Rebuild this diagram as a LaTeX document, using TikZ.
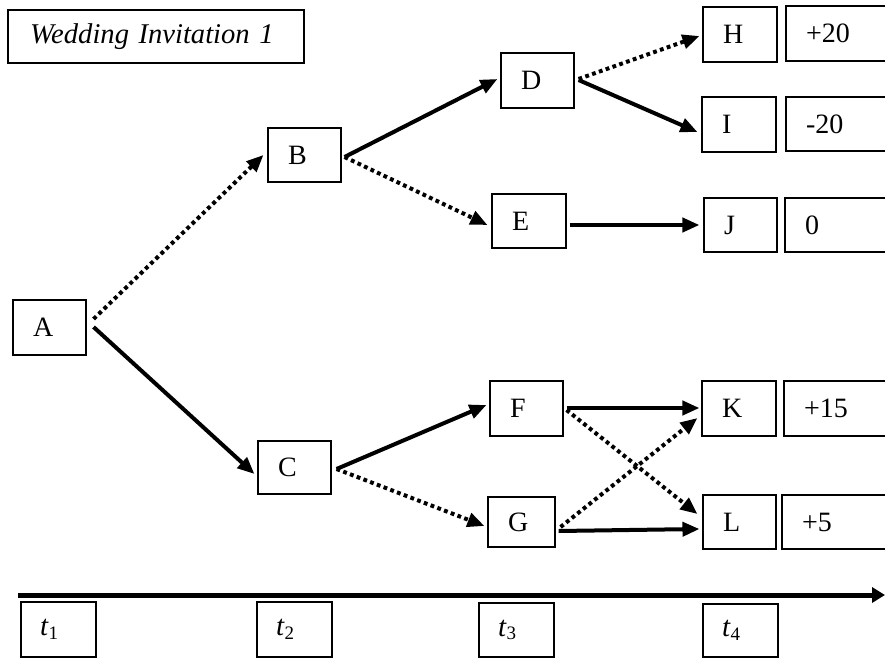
\documentclass[tikz,border=0pt]{standalone}
\usepackage{fontspec}
\setmainfont{Liberation Serif}
\usetikzlibrary{arrows.meta,calc}
\newcommand{\tsub}[1]{\textit{t}\raisebox{-3.5pt}{\fontsize{19}{19}\selectfont #1}}
\begin{document}
\begin{tikzpicture}[x=1pt,y=-1pt,
  bx/.style={draw, line width=1.1pt, inner xsep=20pt, inner ysep=0pt, align=left,
    font=\fontsize{28}{30}\selectfont, anchor=center},
  sol/.style={line width=4pt, -{Triangle[length=17pt,width=14pt]}},
  dot/.style={sol, dash pattern=on 3.8pt off 3.4pt},
  axis/.style={line width=5pt, -{Triangle[length=13pt,width=15pt]}}]
\useasboundingbox (0,0) rectangle (885,658);
\clip (0,0) rectangle (885,658);
% title
\node[bx, inner xsep=22pt, text width=252pt, minimum height=53pt,
  font=\fontsize{28.6}{32}\selectfont\itshape] (title) at (156,36.5) {Wedding Invitation 1};
% decision nodes
\node[bx, text width=33pt, minimum height=55pt] (A) at (49.5,327.5) {A};
\node[bx, text width=33pt, minimum height=54pt] (B) at (304.5,155) {B};
\node[bx, text width=33pt, minimum height=53pt] (C) at (294.5,467.5) {C};
\node[bx, text width=33pt, minimum height=55pt] (D) at (537.5,80.5) {D};
\node[bx, text width=34pt, minimum height=54pt] (E) at (529,221) {E};
\node[bx, text width=33pt, minimum height=55pt] (F) at (526.5,408.5) {F};
\node[bx, text width=27pt, minimum height=50pt] (G) at (521.5,522) {G};
\node[bx, text width=34pt, minimum height=55pt] (H) at (740,34.5) {H};
\node[bx, text width=34pt, minimum height=55pt] (I) at (739,124.5) {I};
\node[bx, text width=33pt, minimum height=54pt] (J) at (740.5,225) {J};
\node[bx, text width=34pt, minimum height=55pt] (K) at (739,408.5) {K};
\node[bx, text width=33pt, minimum height=54pt] (L) at (739.5,522) {L};
% value boxes (cut by the right edge)
\node[bx, text width=90pt, minimum height=55pt] (vH) at (851,33.5) {+20};
\node[bx, text width=90pt, minimum height=54pt] (vI) at (851,124) {-20};
\node[bx, text width=90pt, minimum height=54pt] (vJ) at (850,225) {0};
\node[bx, text width=90pt, minimum height=55pt] (vK) at (849,408.5) {+15};
\node[bx, text width=90pt, minimum height=54pt] (vL) at (847,522) {+5};
% time boxes
\node[bx, inner xsep=19pt, text width=37pt, minimum height=55pt, font=\fontsize{29}{30}\selectfont] (t1) at (58.5,629.5) {\tsub{1}};
\node[bx, inner xsep=19pt, text width=37pt, minimum height=55pt, font=\fontsize{29}{30}\selectfont] (t2) at (294.5,629.5) {\tsub{2}};
\node[bx, inner xsep=19pt, text width=37pt, minimum height=54pt, font=\fontsize{29}{30}\selectfont] (t3) at (516.5,630) {\tsub{3}};
\node[bx, inner xsep=19pt, text width=37pt, minimum height=53pt, font=\fontsize{29}{30}\selectfont] (t4) at (740.5,630.5) {\tsub{4}};
% time axis
\coordinate (ax0) at (18,595);
\coordinate (ax1) at (885,595);
\draw[axis] (ax0) -- (ax1);
% connectors
\draw[dot] ($(A.east)+(7,-8.5)$) -- ($(B.west)+(-4,0)$);
\draw[sol] ($(A.east)+(7,-0.5)$) -- ($(C.west)+(-3,6.5)$);
\draw[sol] ($(B.east)+(3,2)$) -- ($(D.west)+(-3,-1.5)$);
\draw[dot] ($(B.east)+(3,2)$) -- ($(E.west)+(-4,4)$);
\draw[dot] ($(D.east)+(4,-1.5)$) -- ($(H.west)+(-3,1.5)$);
\draw[sol] ($(D.east)+(4,-0.5)$) -- ($(I.west)+(-4,7.5)$);
\draw[sol] ($(E.east)+(3,4)$) -- ($(J.west)+(-4,0)$);
\draw[sol] ($(C.east)+(5,1.5)$) -- ($(F.west)+(-3,-3.5)$);
\draw[dot] ($(C.east)+(5,1.5)$) -- ($(G.west)+(-3,4)$);
\draw[sol] ($(F.east)+(3,-0.5)$) -- ($(K.west)+(-2,-0.5)$);
\draw[dot] ($(F.east)+(3,1.5)$) -- ($(L.west)+(-5,-8)$);
\draw[dot] ($(G.east)+(5,5)$) -- ($(K.west)+(-4,9.5)$);
\draw[sol] ($(G.east)+(3,9)$) -- ($(L.west)+(-3,7)$);
\end{tikzpicture}
\end{document}
